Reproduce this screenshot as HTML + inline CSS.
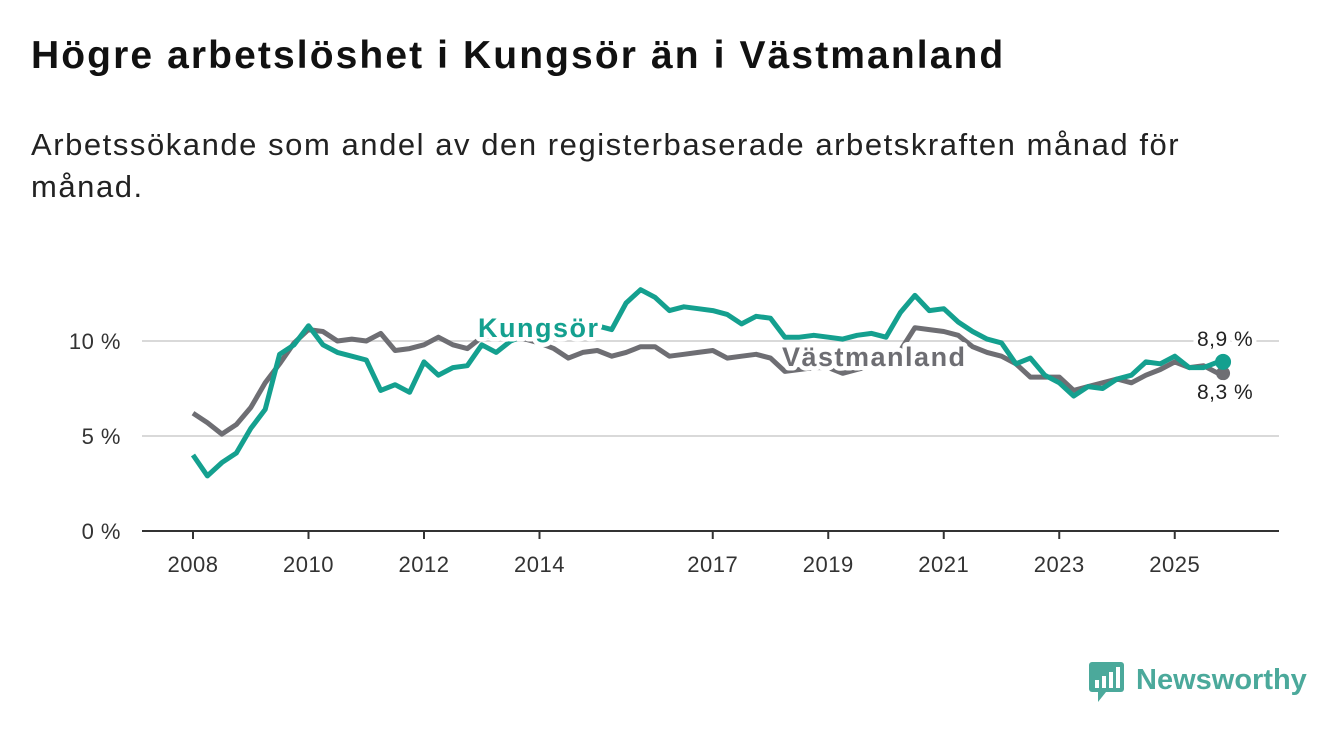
<!DOCTYPE html>
<html><head><meta charset="utf-8"><style>
body{margin:0;width:1340px;height:734px;background:#fff;font-family:"Liberation Sans",sans-serif;overflow:hidden;position:relative}
h1{position:absolute;left:31px;top:34px;margin:0;font-size:39px;font-weight:bold;color:#111;letter-spacing:2.1px}
p{position:absolute;left:31px;top:124px;margin:0;font-size:31px;line-height:42px;color:#222;width:1180px;letter-spacing:1.55px}
svg{position:absolute;left:0;top:0}
</style></head><body>
<h1>Högre arbetslöshet i Kungsör än i Västmanland</h1>
<p>Arbetssökande som andel av den registerbaserade arbetskraften månad för månad.</p>
<svg id="c" width="1340" height="734"></svg>
<script>
const yTicks=[0,5,10];
const yTickLabels=["0 %","5 %","10 %"];
const xTicks=[2008,2010,2012,2014,2017,2019,2021,2023,2025];
const startYear=2008, stepYears=0.25;
const kungsor=[4.0,2.9,3.6,4.1,5.4,6.4,9.3,9.8,10.8,9.8,9.4,9.2,9.0,7.4,7.7,7.3,8.9,8.2,8.6,8.7,9.8,9.4,10.0,10.3,10.5,10.3,10.6,10.8,10.8,10.6,12.0,12.7,12.3,11.6,11.8,11.7,11.6,11.4,10.9,11.3,11.2,10.2,10.2,10.3,10.2,10.1,10.3,10.4,10.2,11.5,12.4,11.6,11.7,11.0,10.5,10.1,9.9,8.8,9.1,8.2,7.8,7.1,7.6,7.5,8.0,8.2,8.9,8.8,9.2,8.6,8.6,8.9];
const vastmanland=[6.2,5.7,5.1,5.6,6.5,7.8,8.8,9.9,10.6,10.5,10.0,10.1,10.0,10.4,9.5,9.6,9.8,10.2,9.8,9.6,10.2,10.3,10.2,10.1,9.9,9.6,9.1,9.4,9.5,9.2,9.4,9.7,9.7,9.2,9.3,9.4,9.5,9.1,9.2,9.3,9.1,8.4,8.5,8.6,8.6,8.3,8.5,8.7,8.8,9.5,10.7,10.6,10.5,10.3,9.7,9.4,9.2,8.8,8.1,8.1,8.1,7.4,7.6,7.8,8.0,7.8,8.2,8.5,8.9,8.6,8.7,8.3];
const lastLabels=["8,9 %","8,3 %"];
const NS="http://www.w3.org/2000/svg";
const svg=document.getElementById('c');
const X=t=>193+(t-2008)*57.75;
const Y=v=>531-v*19;
function mk(tag,attrs,txt){const e=document.createElementNS(NS,tag);for(const k in attrs)e.setAttribute(k,attrs[k]);if(txt!==undefined)e.textContent=txt;svg.appendChild(e);return e;}
yTicks.forEach((v,i)=>{
 if(v>0){const g=mk('line',{x1:142,x2:1279,y1:Y(v),y2:Y(v),stroke:'#d9d9d9','stroke-width':2});
 
 }
 const t=mk('text',{x:121,y:Y(v)+8,'text-anchor':'end','font-size':22,fill:'#333','letter-spacing':'0.5'},yTickLabels[i]);
 
 
});
const ax=mk('line',{x1:142,x2:1279,y1:531,y2:531,stroke:'#333','stroke-width':2});


xTicks.forEach(yr=>{
 const tk=mk('line',{x1:X(yr),x2:X(yr),y1:531,y2:539,stroke:'#333','stroke-width':2});
 
 
 const t=mk('text',{x:X(yr),y:572,'text-anchor':'middle','font-size':22,fill:'#333','letter-spacing':'0.5'},yr);
 
 
});
function line(arr,color,name){
 const d=arr.map((v,i)=>(i?'L':'M')+X(startYear+i*stepYears).toFixed(1)+' '+Y(v).toFixed(1)).join(' ');
 const p=mk('path',{d:d,fill:'none',stroke:color,'stroke-width':5,'stroke-linejoin':'round'});
 
 
 return p;
}
line(vastmanland,'#6e6e73','vastmanland-line');
line(kungsor,'#14a08f','kungsor-line');
const n=kungsor.length-1, lx=X(startYear+n*stepYears)+5;
const d2=mk('circle',{cx:lx,cy:Y(vastmanland[n]),r:7,fill:'#6e6e73'});


const d1=mk('circle',{cx:lx,cy:Y(kungsor[n]),r:8,fill:'#14a08f'});


function halo(x,y,txt,color,size,weight,ls,name){
 const t=mk('text',{x:x,y:y,'font-size':size,'font-weight':weight,fill:color,stroke:'#fff','stroke-width':9,'paint-order':'stroke','stroke-linejoin':'round','letter-spacing':ls},txt);
 
 
}
halo(478,337,'Kungsör','#14a08f',27,'bold','1.5','kungsor-label');
halo(782,366,'Västmanland','#6e6e73',27,'bold','1.5','vastmanland-label');
halo(1197,346,lastLabels[0],'#222',21,'normal','0.5','kungsor-last-value');
halo(1197,399,lastLabels[1],'#222',21,'normal','0.5','vastmanland-last-value');
const lg=mk('g',{});


lg.innerHTML='<rect x="1089" y="662" width="35" height="30" rx="3" fill="#4ba99b"/><polygon points="1098,692 1106,692 1098,702" fill="#4ba99b"/><rect x="1095" y="680" width="4" height="8" fill="#fff"/><rect x="1102" y="676" width="4" height="12" fill="#fff"/><rect x="1109" y="672" width="4" height="16" fill="#fff"/><rect x="1116" y="667" width="4" height="21" fill="#fff"/><text x="1136" y="689" font-size="29" font-weight="bold" fill="#4ba99b">Newsworthy</text>';
</script>
</body></html>
